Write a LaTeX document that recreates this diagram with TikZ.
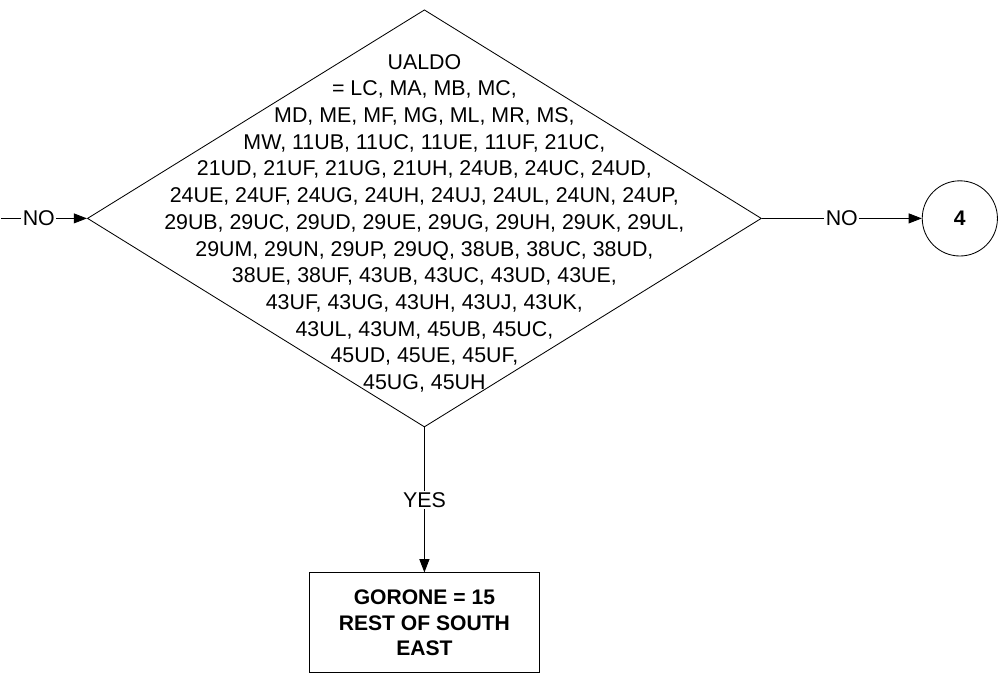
\documentclass[tikz,border=0pt]{standalone}
\usepackage{fontspec}
\setmainfont{Liberation Sans}
\usetikzlibrary{positioning,arrows.meta,shapes.geometric}

\begin{document}
\begin{tikzpicture}[
  every node/.style={font=\fontsize{15.2}{19}\selectfont},
  decision/.style={diamond, draw, line width=0.6pt, minimum width=16.85cm, minimum height=10.43cm, inner sep=0pt},
  connector/.style={circle, draw, line width=0.6pt, minimum size=1.88cm, font=\fontsize{15}{18}\selectfont\bfseries},
  process/.style={rectangle, draw, line width=0.6pt, minimum width=5.73cm, minimum height=2.5cm, align=center, font=\fontsize{15}{18.1}\selectfont\bfseries},
  flow/.style={-{Triangle[length=0.33cm,width=0.25cm]}, line width=0.6pt},
  answer/.style={fill=white, inner sep=1pt}
]
\useasboundingbox (0,0) rectangle (25.05,-16.95);

\node[decision] (test) at (10.61,-5.46) {};
\node[align=center] (codes) at ([yshift=-0.12cm]test.center) {UALDO\\
  = LC, MA, MB, MC,\\
  MD, ME, MF, MG, ML, MR, MS,\\
  MW, 11UB, 11UC, 11UE, 11UF, 21UC,\\
  21UD, 21UF, 21UG, 21UH, 24UB, 24UC, 24UD,\\
  24UE, 24UF, 24UG, 24UH, 24UJ, 24UL, 24UN, 24UP,\\
  29UB, 29UC, 29UD, 29UE, 29UG, 29UH, 29UK, 29UL,\\
  29UM, 29UN, 29UP, 29UQ, 38UB, 38UC, 38UD,\\
  38UE, 38UF, 43UB, 43UC, 43UD, 43UE,\\
  43UF, 43UG, 43UH, 43UJ, 43UK,\\
  43UL, 43UM, 45UB, 45UC,\\
  45UD, 45UE, 45UF,\\
  45UG, 45UH};

\coordinate[left=2.15cm of test.west] (entry);
\node[connector, right=4cm of test] (next) {4};
\node[process, below=3.625cm of test] (region) {GORONE = 15\\REST OF SOUTH\\EAST};

% branches
\draw[flow] (entry) -- node[answer, pos=0.44] {NO} (test);
\draw[flow] (test) -- node[answer] {NO} (next);
\draw[flow] (test) -- node[answer] {YES} (region);
\end{tikzpicture}
\end{document}
